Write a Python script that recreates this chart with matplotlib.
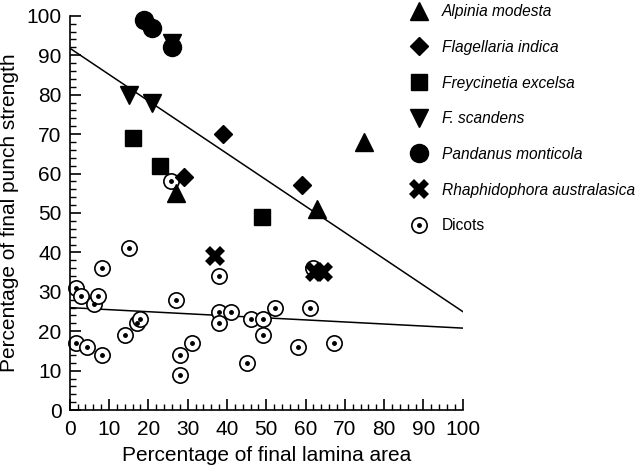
import matplotlib
matplotlib.use("Agg")
import matplotlib.pyplot as plt
from matplotlib.ticker import MultipleLocator
from matplotlib.lines import Line2D

plt.rcParams['font.family'] = ['Liberation Sans', 'DejaVu Sans']

# monocot species: (lamina area %, punch strength %)
alpinia_x = [27, 63, 75]
alpinia_y = [55, 51, 68]
flagellaria_x = [29, 39, 59]
flagellaria_y = [59, 70, 57]
freycinetia_x = [16, 23, 49]
freycinetia_y = [69, 62, 49]
scandens_x = [15, 21, 26]
scandens_y = [80, 78, 93]
pandanus_x = [19, 21, 26]
pandanus_y = [99, 97, 92]
rhaphido_x = [37, 62.5, 64.5]
rhaphido_y = [39, 35, 35]

dicot_x = [1.5, 2.8, 6.1, 7.2, 8.1, 1.5, 4.5, 8.3, 15.1, 14, 17, 18, 27, 28, 28, 31,
           38, 38, 38, 41, 45, 46, 49.2, 49.2, 52.2, 58.1, 61.1, 62, 67.2, 25.7]
dicot_y = [31, 29, 27, 29, 36, 17, 16, 14, 41, 19, 22, 23, 28, 14, 9, 17,
           34, 25, 22, 25, 12, 23, 23, 19, 26, 16, 26, 36, 17, 58]

# regression lines (endpoints at x = 0 and 100)
line_x = [0, 100]
mono_fit = [91.8, 25]
dicot_fit = [26, 20.8]

# marker styles shared by plot and legend
styles = {
    'alpinia': dict(marker='^', ms=13, color='black'),
    'flagellaria': dict(marker='D', ms=9.5, color='black'),
    'freycinetia': dict(marker='s', ms=12, color='black'),
    'scandens': dict(marker='v', ms=13, color='black'),
    'pandanus': dict(marker='o', ms=13, color='black'),
    'rhaphido': dict(marker='X', ms=14, color='black', mew=0),
}
ring = dict(marker='o', ms=11, mfc='white', mec='black', mew=1.2)
dot = dict(marker='o', ms=2.5, color='black')

fig = plt.figure(figsize=(6.4, 4.65), dpi=100)
ax = fig.add_axes([0.109, 0.118, 0.614, 0.848])

ax.plot(line_x, mono_fit, color='black', lw=1.1, zorder=1)
ax.plot(line_x, dicot_fit, color='black', lw=1.1, zorder=1)

ax.plot(dicot_x, dicot_y, ls='', zorder=2, clip_on=False, **ring)
ax.plot(dicot_x, dicot_y, ls='', zorder=3, clip_on=False, **dot)

series = [
    (alpinia_x, alpinia_y, 'alpinia'),
    (flagellaria_x, flagellaria_y, 'flagellaria'),
    (freycinetia_x, freycinetia_y, 'freycinetia'),
    (scandens_x, scandens_y, 'scandens'),
    (pandanus_x, pandanus_y, 'pandanus'),
    (rhaphido_x, rhaphido_y, 'rhaphido'),
]
for xs, ys, key in series:
    ax.plot(xs, ys, ls='', zorder=4, clip_on=False, **styles[key])

ax.set_xlim(0, 100)
ax.set_ylim(0, 100)
ax.xaxis.set_major_locator(MultipleLocator(10))
ax.yaxis.set_major_locator(MultipleLocator(10))
ax.xaxis.set_minor_locator(MultipleLocator(2))
ax.yaxis.set_minor_locator(MultipleLocator(2))
ax.tick_params(which='major', direction='in', length=8, width=1.2, labelsize=15)
ax.tick_params(axis='x', which='major', pad=7)
ax.tick_params(axis='y', which='major', pad=6)
ax.tick_params(which='minor', direction='in', length=4, width=1.0)
for side in ['top', 'right']:
    ax.spines[side].set_visible(False)
for side in ['left', 'bottom']:
    ax.spines[side].set_linewidth(1.2)

ax.set_xlabel('Percentage of final lamina area', fontsize=15, labelpad=5)
ax.set_ylabel('Percentage of final punch strength', fontsize=15, labelpad=5)

handles = [Line2D([], [], ls='', **styles[k]) for _, _, k in series]
handles.append((Line2D([], [], ls='', **ring), Line2D([], [], ls='', **dot)))
labels = ['Alpinia modesta', 'Flagellaria indica', 'Freycinetia excelsa', 'F. scandens',
          'Pandanus monticola', 'Rhaphidophora australasica', 'Dicots']
leg = fig.legend(handles, labels, loc='upper left', bbox_to_anchor=(0.637, 0.991),
                 frameon=False, fontsize=11.2, labelspacing=1.33, handlelength=1.5,
                 handletextpad=0.7, borderpad=0, borderaxespad=0)
for t in leg.get_texts()[:-1]:
    t.set_style('italic')

fig.savefig('out.png', dpi=100)
